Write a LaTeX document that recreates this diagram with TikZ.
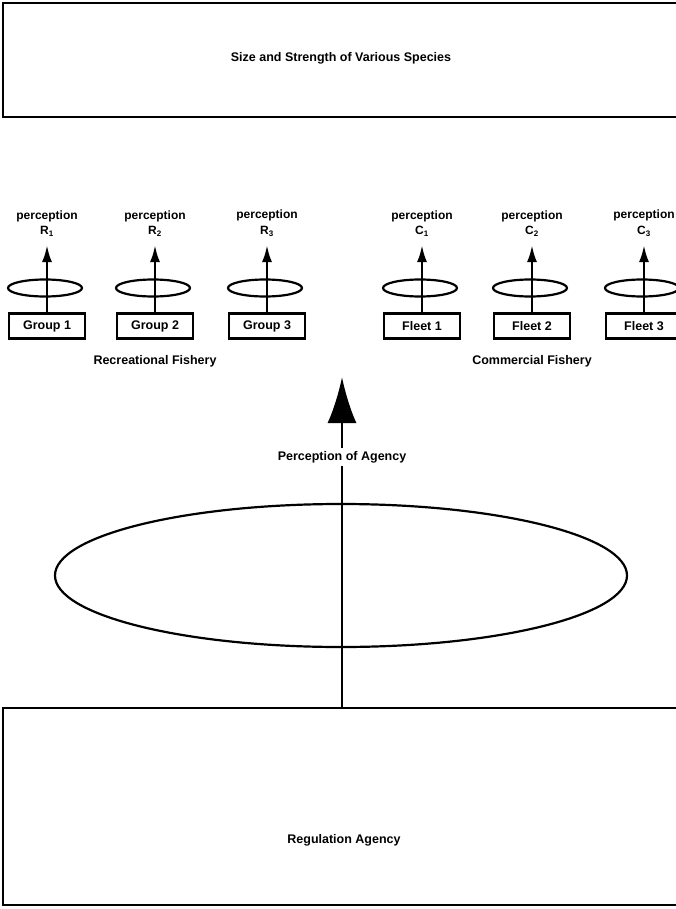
\documentclass[tikz,border=0pt]{standalone}
\usepackage{fontspec}
\setmainfont{Liberation Sans}
\usetikzlibrary{arrows.meta}
\tikzset{
  bigbox/.style={draw, line width=2.6pt, minimum width=700pt, inner sep=0pt},
  smallbox/.style={draw, line width=2.4pt, minimum width=76pt, minimum height=25pt, inner sep=0pt, font=\fontsize{12.5}{14}\bfseries},
  lbl/.style={font=\fontsize{12.5}{14}\bfseries, inner sep=1pt},
  plbl/.style={font=\fontsize{12}{16}\bfseries, align=center, inner sep=0pt},
  ring/.style={draw, line width=2.2pt},
  uparrow/.style={line width=2.6pt, -{Latex[length=17pt,width=10pt]}},
  bigarrow/.style={line width=2.8pt, -{Latex[length=46pt,width=29pt]}},
}
\begin{document}
\begin{tikzpicture}[x=1pt,y=-1pt]
\useasboundingbox (0,0) rectangle (676,909);
\clip (0,0) rectangle (676,909);
% top and bottom boxes
\node[bigbox, minimum height=114pt] (top) at (353,60) {};
\node[lbl] (toplbl) at (341,58) {Size and Strength of Various Species};
\node[bigbox, minimum height=197pt] (reg) at (353,806.5) {};
\node[lbl] (reglbl) at (344,840) {Regulation Agency};
% big ellipse
\draw[ring] (341,575.5) ellipse [x radius=286, y radius=71.5];
% small ellipses
\foreach \x in {47,155,267,422,532,644}{
  \draw[ring] (\x-2,288) ellipse [x radius=37, y radius=8.5];
}
% boxes
\node[smallbox] (g1) at (47,326) {Group 1};
\node[smallbox] (g2) at (155,326) {Group 2};
\node[smallbox] (g3) at (267,326) {Group 3};
\node[smallbox] (f1) at (422,326) {Fleet 1};
\node[smallbox] (f2) at (532,326) {Fleet 2};
\node[smallbox] (f3) at (644,326) {Fleet 3};
% perception labels
\node[plbl, anchor=south] (p1) at (47,237) {perception\\R\textsubscript{1}};
\node[plbl, anchor=south] (p2) at (155,237) {perception\\R\textsubscript{2}};
\node[plbl, anchor=south] (p3) at (267,237) {perception\\R\textsubscript{3}};
\node[plbl, anchor=south] (c1) at (422,237) {perception\\C\textsubscript{1}};
\node[plbl, anchor=south] (c2) at (532,237) {perception\\C\textsubscript{2}};
\node[plbl, anchor=south] (c3) at (644,237) {perception\\C\textsubscript{3}};
\draw[uparrow] (g1.north) -- ([yshift=-8pt]p1.south);
\draw[uparrow] (g2.north) -- ([yshift=-8pt]p2.south);
\draw[uparrow] (g3.north) -- ([yshift=-8pt]p3.south);
\draw[uparrow] (f1.north) -- ([yshift=-8pt]c1.south);
\draw[uparrow] (f2.north) -- ([yshift=-8pt]c2.south);
\draw[uparrow] (f3.north) -- ([yshift=-8pt]c3.south);
% fishery labels
\node[lbl] (rec) at (155,361) {Recreational Fishery};
\node[lbl] (com) at (532,361) {Commercial Fishery};
% agency arrow
\coordinate (tipA) at (342,377);
\node[lbl, fill=white, inner sep=3pt] (agency) at (342,457) {Perception of Agency};
\draw[line width=2.8pt] (reg.north -| tipA) -- (agency.south);
\draw[bigarrow] (agency.north) -- (tipA);
\end{tikzpicture}
\end{document}
